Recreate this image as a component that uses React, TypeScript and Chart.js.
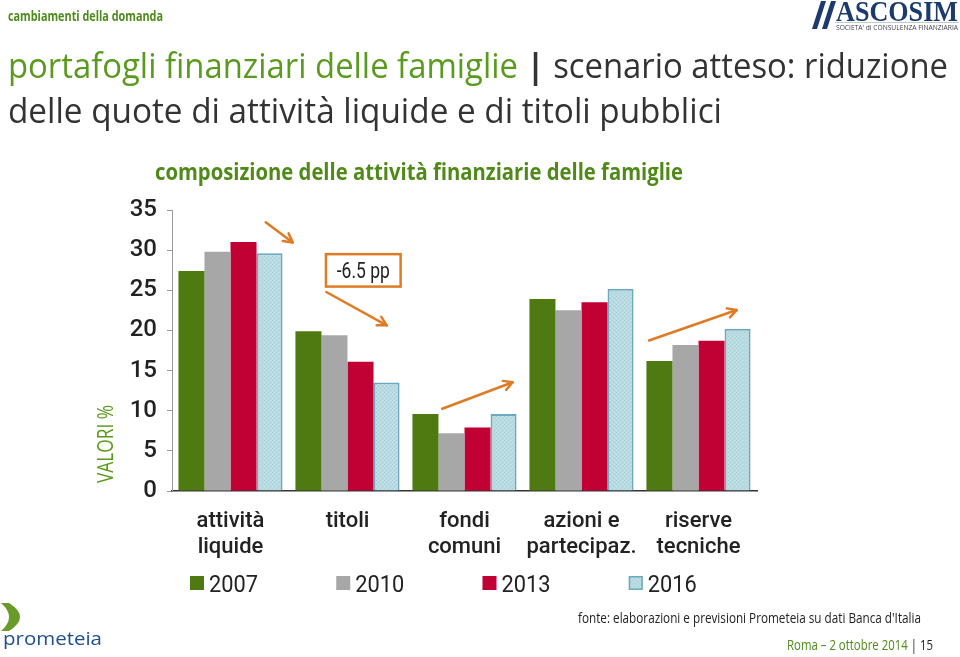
import React, { useEffect, useLayoutEffect, useRef } from "react";
import { Chart, registerables } from "chart.js";

Chart.register(...registerables);

// ---------- data ----------
const categories: string[][] = [
  ["attività", "liquide"],
  ["titoli"],
  ["fondi", "comuni"],
  ["azioni e", "partecipaz."],
  ["riserve", "tecniche"],
];
const seriesLabels = ["2007", "2010", "2013", "2016"];
const values2007 = [27.4, 19.9, 9.6, 23.9, 16.2];
const values2010 = [29.8, 19.4, 7.2, 22.5, 18.2];
const values2013 = [31.0, 16.1, 7.9, 23.5, 18.7];
const values2016 = [29.6, 13.5, 9.6, 25.2, 20.2];
const yTicks = [0, 5, 10, 15, 20, 25, 30, 35];
// arrows: [xStart, yStart, xEnd, yEnd] in (category index, value) units
const arrows: number[][] = [
  [0.301, 33.46, 0.532, 30.96],
  [0.819, 24.79, 1.335, 20.63],
  [1.81, 10.25, 2.412, 13.54],
  [3.577, 18.75, 4.326, 22.54],
];
const boxNote = { text: "-6.5 pp", x1: 0.816, x2: 1.454, y1: 29.5, y2: 25.46 };
const axisTitle = "VALORI %";

const GREEN = "#4f7a12";
const GRAY = "#a7a7a7";
const RED = "#c10034";
const BLUE_BORDER = "#6da8be";
const ORANGE = "#e07b25";

function makePattern(): CanvasPattern | string {
  const c = document.createElement("canvas");
  c.width = 4;
  c.height = 4;
  const g = c.getContext("2d");
  if (!g) return "#b8dae1";
  g.fillStyle = "#b8dae1";
  g.fillRect(0, 0, 4, 4);
  g.fillStyle = "#a9cfd8";
  g.fillRect(0, 0, 1, 1);
  g.fillRect(2, 2, 1, 1);
  g.fillStyle = "#c6e3e8";
  g.fillRect(2, 0, 1, 1);
  g.fillRect(0, 2, 1, 1);
  const p = g.createPattern(c, "repeat");
  return p || "#b8dae1";
}

function fillFit(ctx: CanvasRenderingContext2D, text: string, x: number, y: number, w: number) {
  const m = ctx.measureText(text).width;
  const s = w / m;
  ctx.save();
  ctx.translate(x, y);
  ctx.scale(s, 1);
  ctx.fillText(text, 0, 0);
  ctx.restore();
}

const annotPlugin = {
  id: "annot",
  afterDraw(chart: any) {
    const { ctx, chartArea } = chart;
    const xs = chart.scales.x;
    const ys = chart.scales.y;
    const c0 = xs.getPixelForValue(0);
    const cw = xs.getPixelForValue(1) - c0;
    const px = (u: number) => c0 + u * cw;
    const py = (v: number) => ys.getPixelForValue(v);
    ctx.save();
    // arrows
    ctx.strokeStyle = ORANGE;
    ctx.lineWidth = 2.5;
    ctx.lineCap = "round";
    ctx.lineJoin = "round";
    arrows.forEach((a) => {
      const x1 = px(a[0]), y1 = py(a[1]), x2 = px(a[2]), y2 = py(a[3]);
      ctx.beginPath();
      ctx.moveTo(x1, y1);
      ctx.lineTo(x2, y2);
      ctx.stroke();
      const ang = Math.atan2(y2 - y1, x2 - x1);
      const L = 10;
      ctx.beginPath();
      ctx.moveTo(x2 - L * Math.cos(ang - 0.5), y2 - L * Math.sin(ang - 0.5));
      ctx.lineTo(x2, y2);
      ctx.lineTo(x2 - L * Math.cos(ang + 0.5), y2 - L * Math.sin(ang + 0.5));
      ctx.stroke();
    });
    // note box
    const bx1 = px(boxNote.x1), bx2 = px(boxNote.x2), by1 = py(boxNote.y1), by2 = py(boxNote.y2);
    ctx.lineWidth = 2.5;
    ctx.lineCap = "butt";
    ctx.lineJoin = "miter";
    ctx.strokeRect(bx1, by1, bx2 - bx1, by2 - by1);
    ctx.fillStyle = "#222";
    ctx.font = "22px Roboto";
    ctx.textBaseline = "alphabetic";
    fillFit(ctx, boxNote.text, (bx1 + bx2) / 2 - 26.5, (by1 + by2) / 2 + 8, 53);

    // legend
    const step = (chartArea.right - chartArea.left) / 4;
    chart.data.datasets.forEach((ds: any, i: number) => {
      const x0 = chartArea.left + 18 + i * step;
      const top = 576;
      ctx.fillStyle = ds.backgroundColor;
      ctx.fillRect(x0, top, 14, 14);
      if (ds.borderWidth) {
        ctx.strokeStyle = ds.borderColor;
        ctx.lineWidth = 1.5;
        ctx.strokeRect(x0 + 0.75, top + 0.75, 12.5, 12.5);
      }
      ctx.fillStyle = "#222";
      ctx.font = "24px Roboto";
      fillFit(ctx, ds.label, x0 + 19, 592, 49);
    });

    // axis title
    ctx.save();
    ctx.translate(113, 483);
    ctx.rotate(-Math.PI / 2);
    ctx.fillStyle = "#5a9a1a";
    ctx.font = "21px 'Open Sans'";
    fillFit(ctx, axisTitle, 0, 0, 78);
    ctx.restore();
    ctx.restore();
  },
};

function Fit(props: { x: number; y: number; w: number; size: number; style?: React.CSSProperties; children: React.ReactNode }) {
  const ref = useRef<HTMLDivElement>(null);
  useLayoutEffect(() => {
    const el = ref.current;
    if (!el) return;
    el.style.transform = "none";
    const actual = el.getBoundingClientRect().width;
    if (actual > 0) el.style.transform = `scaleX(${props.w / actual})`;
  });
  return (
    <div
      ref={ref}
      style={{
        position: "absolute",
        left: props.x,
        top: props.y,
        fontSize: props.size,
        lineHeight: 1,
        whiteSpace: "nowrap",
        transformOrigin: "0 0",
        fontFamily: "'Open Sans'",
        ...props.style,
      }}
    >
      {props.children}
    </div>
  );
}

export default function App() {
  const canvasRef = useRef<HTMLCanvasElement>(null);
  useEffect(() => {
    const canvas = canvasRef.current;
    if (!canvas) return;
    const pattern = makePattern();
    const chart = new Chart(canvas, {
      type: "bar",
      data: {
        labels: categories,
        datasets: [
          { label: seriesLabels[0], data: values2007, backgroundColor: GREEN, borderWidth: 0 },
          { label: seriesLabels[1], data: values2010, backgroundColor: GRAY, borderWidth: 0 },
          { label: seriesLabels[2], data: values2013, backgroundColor: RED, borderWidth: 0 },
          { label: seriesLabels[3], data: values2016, backgroundColor: pattern as any, borderColor: BLUE_BORDER, borderWidth: 2 },
        ],
      },
      options: {
        animation: false,
        responsive: false,
        events: [],
        layout: { padding: { left: 0, top: 210, right: 203, bottom: 0 } },
        datasets: { bar: { barPercentage: 1, categoryPercentage: 0.89 } },
        plugins: { legend: { display: false }, tooltip: { enabled: false }, title: { display: false } },
        scales: {
          x: {
            grid: { display: false },
            border: { display: true, color: "#333", width: 1.5 },
            ticks: { color: "#222", font: { family: "Roboto", size: 22, weight: 500, lineHeight: 1.2 }, padding: 9, maxRotation: 0, autoSkip: false },
            afterFit: (s: any) => { s.height = 166; },
          },
          y: {
            min: 0,
            max: 35,
            afterBuildTicks: (s: any) => { s.ticks = yTicks.map((v) => ({ value: v })); },
            grid: { display: true, drawOnChartArea: false, drawTicks: true, tickLength: 5, color: "#999" },
            border: { display: true, color: "#999", width: 1 },
            ticks: { color: "#222", font: { family: "Roboto", size: 24, weight: 500 }, padding: 10 },
            afterFit: (s: any) => { s.width = 172; },
          },
        },
      },
      plugins: [annotPlugin],
    });
    return () => chart.destroy();
  }, []);

  const dark = "#333";
  const green = "#5a9a1f";
  return (
    <div style={{ position: "absolute", left: 0, top: 0, width: 960, height: 657, background: "#fff", overflow: "hidden" }}>
      <canvas ref={canvasRef} width={960} height={657} style={{ position: "absolute", left: 0, top: 0, width: 960, height: 657 }} />
      <Fit x={8} y={7.7} w={155} size={15} style={{ color: "#4e8a1c", fontWeight: 700 }}>cambiamenti della domanda</Fit>
      <Fit x={8} y={48.3} w={940} size={34} style={{ color: dark }}>
        <span style={{ color: green }}>portafogli finanziari delle famiglie</span>
        <span style={{ fontWeight: 700 }}> | </span>
        <span>scenario atteso: riduzione</span>
      </Fit>
      <Fit x={8} y={93} w={714} size={34} style={{ color: dark }}>delle quote di attività liquide e di titoli pubblici</Fit>
      <Fit x={155} y={159.6} w={528} size={23} style={{ color: "#4f8a19", fontWeight: 700 }}>composizione delle attività finanziarie delle famiglie</Fit>

      {/* ASCOSIM logo */}
      <svg style={{ position: "absolute", left: 812, top: 0 }} width={26} height={32}>
        <polygon points="9,1 14,1 5,29 0,29" fill="#1c3a6e" />
        <polygon points="19,1 24,1 15,29 10,29" fill="#1c3a6e" />
      </svg>
      <Fit x={836} y={-3.3} w={122} size={29} style={{ color: "#1c3a6e", fontWeight: 700, fontFamily: "'Liberation Serif'" }}>ASCOSIM</Fit>
      <div style={{ position: "absolute", left: 835, top: 22, width: 124, height: 1, background: "#bcc" }} />
      <Fit x={836} y={23.5} w={122} size={7.5} style={{ color: "#445" }}>SOCIETA' di CONSULENZA FINANZIARIA</Fit>

      {/* prometeia logo */}
      <svg style={{ position: "absolute", left: 0, top: 602 }} width={24} height={32}>
        <path d="M1,1 L9,1 Q20,8 20,15 Q20,22 9,29 L1,29 Q9,22 9,15 Q9,8 1,1 Z" fill="#6a9a2a" />
      </svg>
      <Fit x={3} y={629} w={99} size={19} style={{ color: "#1f4e8c" }}>prometeia</Fit>

      <Fit x={578} y={611} w={343} size={14.5} style={{ color: "#222" }}>fonte: elaborazioni e previsioni Prometeia su dati Banca d'Italia</Fit>
      <Fit x={787} y={638} w={146} size={14.5} style={{ color: "#222" }}>
        <span style={{ color: "#4e8a1c" }}>Roma – 2 ottobre 2014</span> | 15
      </Fit>
    </div>
  );
}
